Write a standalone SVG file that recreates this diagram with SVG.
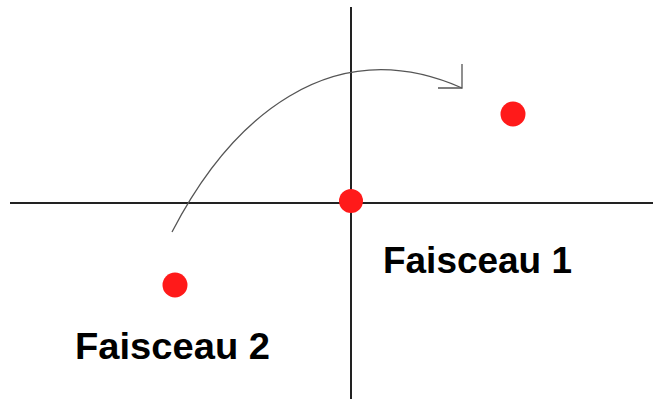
<svg xmlns="http://www.w3.org/2000/svg" width="653" height="399" viewBox="0 0 653 399">
<style>
.axis{stroke:#222;stroke-width:2;fill:none}
.dot{fill:#ff1a1a}
.lbl{font-family:"Liberation Sans",Arial,sans-serif;font-weight:bold;font-size:36px;fill:#000}
.arc{stroke:#555;stroke-width:1.3;fill:none}
</style>
<g id="axes">
<line class="axis" x1="10" y1="203" x2="653" y2="203"/>
<line class="axis" x1="351" y1="7" x2="351" y2="399"/>
</g>
<g id="connectors">
<path class="arc" d="M172,232 C230,120 330,30 462,88"/>
<path class="arc" d="M438,88 L462,88 L462,64"/>
</g>
<g id="origin"><circle class="dot" cx="351" cy="201" r="12"/></g>
<g id="faisceau1">
<circle class="dot" cx="513" cy="114" r="12.5"/>
<text class="lbl" x="383" y="273" textLength="189" lengthAdjust="spacingAndGlyphs">Faisceau 1</text>
</g>
<g id="faisceau2">
<circle class="dot" cx="175" cy="285" r="12.5"/>
<text class="lbl" x="75" y="359" textLength="195" lengthAdjust="spacingAndGlyphs">Faisceau 2</text>
</g>
</svg>
